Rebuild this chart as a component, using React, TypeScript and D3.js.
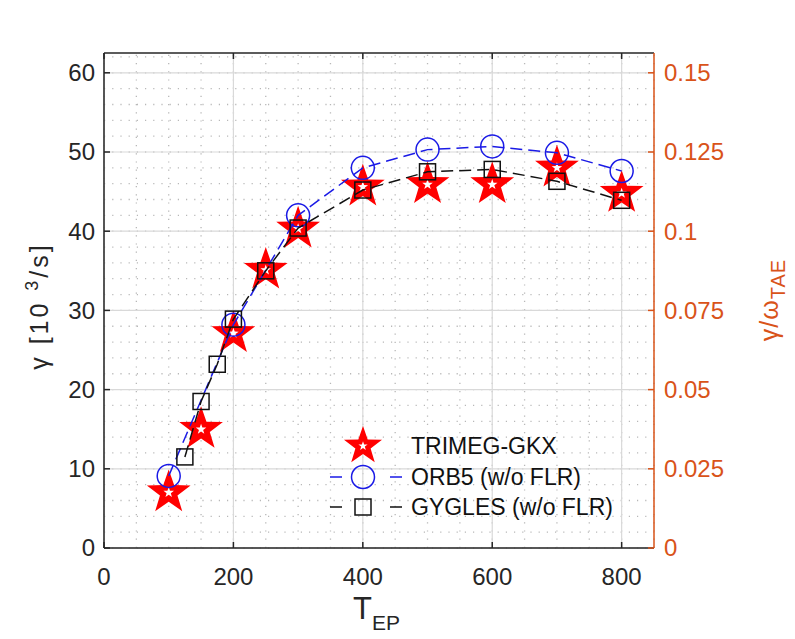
import React from "react";
import * as d3 from "d3";

// TRIMEG-GKX (stars)
const trimegT = [100, 150, 200, 250, 300, 400, 500, 600, 700, 800];
const trimegGamma = [7, 15, 27.1, 35.1, 40.3, 45.6, 45.9, 45.9, 48, 44.8];

// ORB5 (w/o FLR) (circles)
const orb5T = [100, 200, 300, 400, 500, 600, 700, 800];
const orb5Gamma = [9.1, 28.2, 42, 48, 50.3, 50.7, 49.9, 47.6];

// GYGLES (w/o FLR) (squares)
const gyglesT = [125, 150, 175, 200, 250, 300, 400, 500, 600, 700, 800];
const gyglesGamma = [11.5, 18.5, 23.2, 28.9, 35, 40.4, 45.2, 47.5, 47.8, 46.3, 43.9];

const xTicks = [0, 200, 400, 600, 800];
const yTicks = [0, 10, 20, 30, 40, 50, 60];
const yRightTicks = [0, 0.025, 0.05, 0.075, 0.1, 0.125, 0.15];
const legendNames = ["TRIMEG-GKX", "ORB5 (w/o FLR)", "GYGLES (w/o FLR)"];

const W = 795;
const H = 639;
const FONT = "'Liberation Sans', Arial, Helvetica, sans-serif";
const ORANGE = "#D95319";
const AXIS = "#262626";

const margin = { left: 104, right: 141, top: 53, bottom: 91 };

function starPath(cx: number, cy: number, R: number, ratio = 0.4) {
  const pts: [number, number][] = [];
  for (let i = 0; i < 10; i++) {
    const r = i % 2 === 0 ? R : R * ratio;
    const a = -Math.PI / 2 + (i * Math.PI) / 5;
    pts.push([cx + r * Math.cos(a), cy + r * Math.sin(a)]);
  }
  return d3.line()(pts) + "Z";
}

const Star = ({ cx, cy, R }: { cx: number; cy: number; R: number }) => (
  <g>
    <path d={starPath(cx, cy, R)} fill="#ff0000" />
    <path d={starPath(cx, cy, R * 0.24)} fill="#ffffff" />
  </g>
);

export default function App() {
  const x = d3.scaleLinear().domain([0, 850]).range([margin.left, W - margin.right]);
  const y = d3.scaleLinear().domain([0, 62.5]).range([H - margin.bottom, margin.top]);
  const yR = d3.scaleLinear().domain([0, 0.15625]).range([H - margin.bottom, margin.top]);

  const [x0, x1] = x.range();
  const [y0, y1] = y.range();

  const minorX = d3.range(0, 851, 50);
  const minorY = d3.range(0, 62.5, 2);

  const line = d3
    .line<[number, number]>()
    .x((d) => x(d[0]))
    .y((d) => y(d[1]));

  const orbPts = orb5T.map((t, i) => [t, orb5Gamma[i]] as [number, number]);
  const gygPts = gyglesT.map((t, i) => [t, gyglesGamma[i]] as [number, number]);

  const tick = 6;
  const legX = 363;
  const legY = [446, 477, 507];

  return (
    <svg
      width={W}
      height={H}
      style={{ position: "absolute", left: 0, top: 0, background: "#fff" }}
      fontFamily={FONT}
    >
      {/* minor dotted grid */}
      <g stroke="#b8b8b8" strokeWidth={1.3} strokeDasharray="1.2,7">
        {minorX.map((v) => (
          <line key={"mx" + v} x1={x(v)} x2={x(v)} y1={y0} y2={y1} />
        ))}
        {minorY.map((v) => (
          <line key={"my" + v} x1={x0} x2={x1} y1={y(v)} y2={y(v)} />
        ))}
      </g>
      {/* major grid */}
      <g stroke="#d9d9d9" strokeWidth={1.2}>
        {xTicks.map((v) => (
          <line key={"gx" + v} x1={x(v)} x2={x(v)} y1={y0} y2={y1} />
        ))}
        {yTicks.map((v) => (
          <line key={"gy" + v} x1={x0} x2={x1} y1={y(v)} y2={y(v)} />
        ))}
      </g>

      {/* TRIMEG-GKX stars */}
      {trimegT.map((t, i) => (
        <Star key={"s" + t} cx={x(t)} cy={y(trimegGamma[i])} R={23} />
      ))}

      {/* ORB5 */}
      <path d={line(orbPts) ?? ""} fill="none" stroke="#1a1ae6" strokeWidth={1.5} strokeDasharray="12,6" />
      {orbPts.map((d) => (
        <circle key={"c" + d[0]} cx={x(d[0])} cy={y(d[1])} r={11.5} fill="none" stroke="#1a1ae6" strokeWidth={1.5} />
      ))}

      {/* GYGLES */}
      <path d={line(gygPts) ?? ""} fill="none" stroke="#111" strokeWidth={1.5} strokeDasharray="12,6" />
      {gygPts.map((d) => (
        <rect key={"r" + d[0]} x={x(d[0]) - 8} y={y(d[1]) - 8} width={16} height={16} fill="none" stroke="#111" strokeWidth={1.5} />
      ))}

      {/* axes frame */}
      <line x1={x0} x2={x1} y1={y1} y2={y1} stroke={AXIS} strokeWidth={1.5} />
      <line x1={x0} x2={x1} y1={y0} y2={y0} stroke={AXIS} strokeWidth={1.5} />
      <line x1={x0} x2={x0} y1={y0} y2={y1} stroke={AXIS} strokeWidth={1.5} />
      <line x1={x1} x2={x1} y1={y0} y2={y1} stroke={ORANGE} strokeWidth={1.5} />

      {/* x ticks */}
      {xTicks.map((v) => (
        <g key={"xt" + v}>
          <line x1={x(v)} x2={x(v)} y1={y0} y2={y0 - tick} stroke={AXIS} strokeWidth={1.5} />
          <line x1={x(v)} x2={x(v)} y1={y1} y2={y1 + tick} stroke={AXIS} strokeWidth={1.5} />
          <text x={x(v)} y={y0 + 37} fontSize={24} textAnchor="middle" fill="#262626">
            {v}
          </text>
        </g>
      ))}
      {/* left y ticks */}
      {yTicks.map((v) => (
        <g key={"yt" + v}>
          <line x1={x0} x2={x0 + tick} y1={y(v)} y2={y(v)} stroke={AXIS} strokeWidth={1.5} />
          <text x={x0 - 9} y={y(v)} dy="0.35em" fontSize={24} textAnchor="end" fill="#262626">
            {v}
          </text>
        </g>
      ))}
      {/* right y ticks */}
      {yRightTicks.map((v) => (
        <g key={"yr" + v}>
          <line x1={x1} x2={x1 - tick} y1={yR(v)} y2={yR(v)} stroke={ORANGE} strokeWidth={1.5} />
          <text x={x1 + 10} y={yR(v)} dy="0.35em" fontSize={24} textAnchor="start" fill={ORANGE}>
            {v === 0 ? "0" : String(v)}
          </text>
        </g>
      ))}

      {/* axis labels */}
      <text transform="translate(48,306) rotate(-90)" fontSize={25} letterSpacing={3} textAnchor="middle" fill="#262626">
        <tspan>γ [10 </tspan>
        <tspan fontSize={18} dy={-10}>3</tspan>
        <tspan dy={10}>/s]</tspan>
      </text>
      <text transform="translate(778,300) rotate(-90)" fontSize={25} letterSpacing={1} textAnchor="middle" fill={ORANGE}>
        <tspan>γ/ω</tspan>
        <tspan fontSize={20} dy={7}>TAE</tspan>
      </text>
      <text x={353} y={619} fontSize={31} fill="#262626">
        <tspan>T</tspan>
        <tspan fontSize={21} dy={11}>EP</tspan>
      </text>

      {/* legend */}
      <Star cx={legX} cy={legY[0]} R={20} />
      <line x1={330} x2={402} y1={legY[1]} y2={legY[1]} stroke="#1a1ae6" strokeWidth={1.5} strokeDasharray="12,48" />
      <circle cx={legX} cy={legY[1]} r={11.5} fill="none" stroke="#1a1ae6" strokeWidth={1.5} />
      <line x1={330} x2={402} y1={legY[2]} y2={legY[2]} stroke="#111" strokeWidth={1.5} strokeDasharray="12,48" />
      <rect x={legX - 8} y={legY[2] - 8} width={16} height={16} fill="none" stroke="#111" strokeWidth={1.5} />
      {legendNames.map((n, i) => (
        <text key={n} x={411} y={legY[i]} dy="0.36em" fontSize={23} fill="#111">
          {n}
        </text>
      ))}
    </svg>
  );
}
